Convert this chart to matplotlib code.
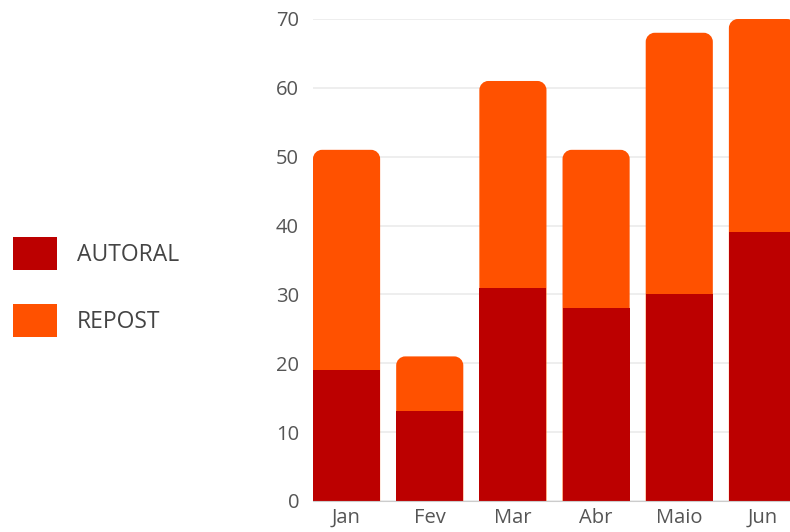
import matplotlib.pyplot as plt
from matplotlib.patches import PathPatch, Patch
from matplotlib.path import Path

# Data
months = ['Jan', 'Fev', 'Mar', 'Abr', 'Maio', 'Jun']
autoral = [19, 13, 31, 28, 30, 39]
repost = [32, 8, 30, 23, 38, 31]
yticks = [0, 10, 20, 30, 40, 50, 60, 70]

# Colors
c_autoral = '#bc0000'
c_repost = '#ff5100'
txt_color = '#555555'

plt.rcParams['font.family'] = ['Open Sans', 'DejaVu Sans']

fig = plt.figure(figsize=(7.9, 5.32), dpi=100)
ax = fig.add_axes([313 / 790, 1 - 501 / 532, 1 - 313 / 790, (501 - 19) / 532])

width = 0.807
x = list(range(len(months)))
ax.bar(x, autoral, width=width, color=c_autoral, zorder=3)
top_bars = ax.bar(x, repost, width=width, bottom=autoral, color=c_repost, zorder=2)

ax.set_xlim(-width / 2, (790 - 347.5) / 83)
ax.set_ylim(0, 70)

# Replace the top segments with rounded-top shapes (drawn from the base,
# under the AUTORAL bars, so no seam shows between the two segments)
fig.canvas.draw()
inv = ax.transData.inverted()
p0 = inv.transform((0, 0))
p1 = inv.transform((9, 9))
rx, ry = p1[0] - p0[0], p1[1] - p0[1]
for rect in top_bars:
    x0 = rect.get_x()
    x1 = x0 + rect.get_width()
    y1 = rect.get_y() + rect.get_height()
    y0 = 0
    k = 0.55
    verts = [(x0, y0), (x1, y0), (x1, y1 - ry),
             (x1, y1 - ry + k * ry), (x1 - rx + k * rx, y1), (x1 - rx, y1),
             (x0 + rx, y1),
             (x0 + rx - k * rx, y1), (x0, y1 - ry + k * ry), (x0, y1 - ry),
             (x0, y0)]
    codes = [Path.MOVETO, Path.LINETO, Path.LINETO,
             Path.CURVE4, Path.CURVE4, Path.CURVE4,
             Path.LINETO,
             Path.CURVE4, Path.CURVE4, Path.CURVE4,
             Path.CLOSEPOLY]
    rect.set_visible(False)
    ax.add_patch(PathPatch(Path(verts, codes), facecolor=c_repost, edgecolor='none',
                           zorder=2, clip_on=False))

# Axes styling
ax.set_yticks(yticks)
ax.set_xticks(x)
ax.set_xticklabels(months)
ax.yaxis.grid(True, color='#ebebeb', linewidth=1.2, zorder=0)
ax.set_axisbelow(True)
for side in ['top', 'right', 'left']:
    ax.spines[side].set_visible(False)
ax.spines['bottom'].set_color('#cccccc')
ax.spines['bottom'].set_zorder(4)
ax.tick_params(axis='both', length=0, labelsize=14.5, labelcolor=txt_color)
ax.tick_params(axis='y', pad=10)
ax.tick_params(axis='x', pad=5)

# Legend
handles = [Patch(facecolor=c_autoral), Patch(facecolor=c_repost)]
fig.legend(handles, ['AUTORAL', 'REPOST'], loc='center left',
           bbox_to_anchor=(13 / 790, 1 - 287 / 532), frameon=False,
           fontsize=16.5, labelcolor='#444444', handlelength=1.93, handleheight=1.85,
           labelspacing=1.46, handletextpad=0.87, borderpad=0, borderaxespad=0)

fig.savefig('out.png', dpi=100)
